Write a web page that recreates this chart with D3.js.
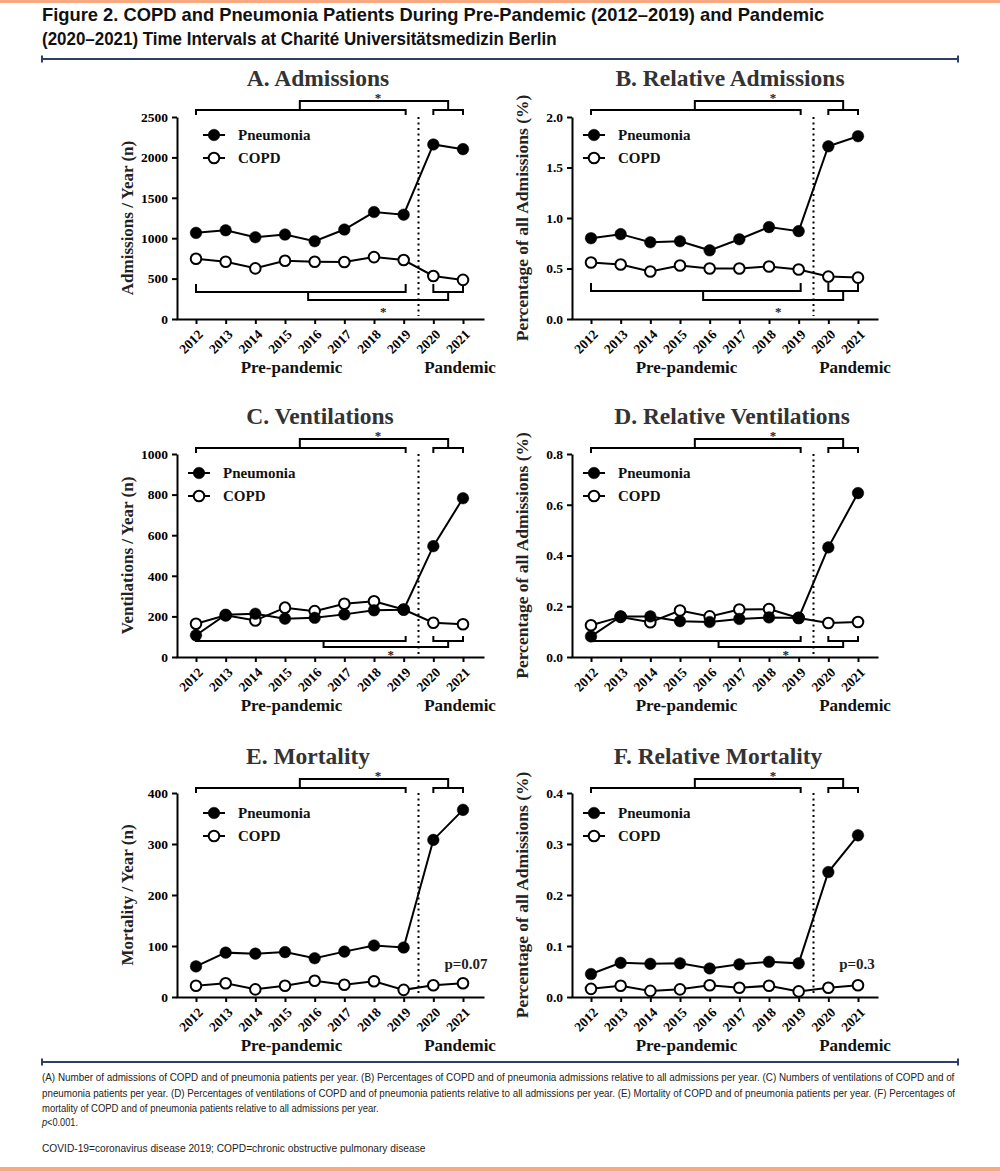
<!DOCTYPE html>
<html>
<head>
<meta charset="utf-8">
<title>COPD and Pneumonia Patients</title>
<script src="https://d3js.org/d3.v7.min.js"></script>
<style>
  body { margin: 0; background: #fff; }
  svg { display: block; }
  .serif { font-family: "Liberation Serif", "Times New Roman", serif; font-weight: bold; }
  .sans { font-family: "Liberation Sans", Arial, sans-serif; }
</style>
</head>
<body>
<div id="chart"></div>
<script>
// ---- data ----
var years = [2012, 2013, 2014, 2015, 2016, 2017, 2018, 2019, 2020, 2021];

var admPneumonia = [1066, 1098, 1012, 1045, 963, 1107, 1324, 1291, 2160, 2102];
var admCopd      = [746, 709, 627, 721, 709, 705, 766, 730, 533, 484];

var relAdmPneumonia = [0.80, 0.84, 0.76, 0.77, 0.68, 0.79, 0.91, 0.87, 1.71, 1.81];
var relAdmCopd      = [0.56, 0.54, 0.47, 0.53, 0.50, 0.50, 0.52, 0.49, 0.42, 0.41];

var ventPneumonia = [107, 208, 213, 189, 193, 210, 230, 233, 546, 782];
var ventCopd      = [164, 205, 180, 243, 226, 262, 275, 234, 169, 161];

var relVentPneumonia = [0.081, 0.160, 0.160, 0.141, 0.138, 0.150, 0.156, 0.154, 0.432, 0.646];
var relVentCopd      = [0.125, 0.158, 0.137, 0.183, 0.160, 0.187, 0.189, 0.154, 0.134, 0.138];

var mortPneumonia = [60, 87, 85, 88, 76, 89, 101, 97, 308, 367];
var mortCopd      = [22, 27, 15, 22, 32, 24, 31, 14, 23, 27];

var relMortPneumonia = [0.045, 0.067, 0.065, 0.066, 0.056, 0.064, 0.069, 0.066, 0.245, 0.317];
var relMortCopd      = [0.016, 0.022, 0.012, 0.015, 0.023, 0.018, 0.022, 0.011, 0.018, 0.023];

var ticksAdm     = [0, 500, 1000, 1500, 2000, 2500];
var ticksRelAdm  = [0, 0.5, 1.0, 1.5, 2.0];
var ticksVent    = [0, 200, 400, 600, 800, 1000];
var ticksRelVent = [0, 0.2, 0.4, 0.6, 0.8];
var ticksMort    = [0, 100, 200, 300, 400];
var ticksRelMort = [0, 0.1, 0.2, 0.3, 0.4];

var seriesNames = ["Pneumonia", "COPD"];

var titleLines = [
  "Figure 2. COPD and Pneumonia Patients During Pre-Pandemic (2012\u20132019) and Pandemic",
  "(2020\u20132021) Time Intervals at Charit\u00e9 Universit\u00e4tsmedizin Berlin"
];
var noteLines = [
  "(A) Number of admissions of COPD and of pneumonia patients per year. (B) Percentages of COPD and of pneumonia admissions relative to all admissions per year. (C) Numbers of ventilations of COPD and of",
  "pneumonia patients per year. (D) Percentages of ventilations of COPD and of pneumonia patients relative to all admissions per year. (E) Mortality of COPD and of pneumonia patients per year. (F) Percentages of",
  "mortality of COPD and of pneumonia patients relative to all admissions per year."
];
var abbrevLine = "COVID-19=coronavirus disease 2019; COPD=chronic obstructive pulmonary disease";

// ---- layout ----
var W = 1000, H = 1171;
var cols = [
  { axisX: 177, x0: 196, x1: 463, xEnd: 483 },
  { axisX: 572, x0: 591, x1: 858, xEnd: 877 }
];
var rows = [
  { yTop: 117, y0: 319 },
  { yTop: 454, y0: 657 },
  { yTop: 793, y0: 997 }
];

var panels = [
  { title: "A. Admissions", ylab: "Admissions / Year (n)", pn: admPneumonia, cp: admCopd,
    ticks: ticksAdm, fmt: d3.format("d"), col: 0, row: 0, titleX: 318, legDx: 26,
    bottom: { by: 27, cy: 19, end: 8, left: 2015.78 } },
  { title: "B. Relative Admissions", ylab: "Percentage of all Admissions (%)", pn: relAdmPneumonia, cp: relAdmCopd,
    ticks: ticksRelAdm, fmt: d3.format(".1f"), col: 1, row: 0, titleX: 730, legDx: 11,
    bottom: { by: 28, cy: 19, end: 8, left: 2015.78 } },
  { title: "C. Ventilations", ylab: "Ventilations / Year (n)", pn: ventPneumonia, cp: ventCopd,
    ticks: ticksVent, fmt: d3.format("d"), col: 0, row: 1, titleX: 320, legDx: 11,
    bottom: { by: 16, cy: 10, end: 5, left: 2016.3 } },
  { title: "D. Relative Ventilations", ylab: "Percentage of all Admissions (%)", pn: relVentPneumonia, cp: relVentCopd,
    ticks: ticksRelVent, fmt: d3.format(".1f"), col: 1, row: 1, titleX: 732, legDx: 11,
    bottom: { by: 16, cy: 10, end: 5, left: 2016.3 } },
  { title: "E. Mortality", ylab: "Mortality / Year (n)", pn: mortPneumonia, cp: mortCopd,
    ticks: ticksMort, fmt: d3.format("d"), col: 0, row: 2, titleX: 308, legDx: 26,
    pval: "p=0.07" },
  { title: "F. Relative Mortality", ylab: "Percentage of all Admissions (%)", pn: relMortPneumonia, cp: relMortCopd,
    ticks: ticksRelMort, fmt: d3.format(".1f"), col: 1, row: 2, titleX: 718, legDx: 11,
    pval: "p=0.3" }
];

var svg = d3.select("#chart").append("svg")
  .attr("width", W).attr("height", H);

// orange bands top and bottom
svg.append("rect").attr("x", 0).attr("y", 0).attr("width", W).attr("height", 3).attr("fill", "#f7a981");
svg.append("rect").attr("x", 0).attr("y", H - 4).attr("width", W).attr("height", 4).attr("fill", "#f7a981");

// narrow text: draw at natural width then squeeze to the target width
function narrowText(parent, y, width, build) {
  var t = parent.append("text").attr("x", 0).attr("y", 0);
  build(t);
  var n = t.node().getComputedTextLength();
  t.attr("transform", "translate(42," + y + ") scale(" + (width / n) + ",1)");
  return t;
}

// header title
var tl = svg.append("g").attr("class", "sans").style("font-weight", "bold").style("font-size", "18px").attr("fill", "#111");
narrowText(tl, 21, 783, function (t) { t.text(titleLines[0]); });
narrowText(tl, 45, 515, function (t) { t.text(titleLines[1]); });

function divider(y) {
  var g = svg.append("g").attr("stroke", "#2d4063").attr("stroke-width", 2);
  g.append("line").attr("x1", 42).attr("x2", 958).attr("y1", y).attr("y2", y);
  g.append("line").attr("x1", 42).attr("x2", 42).attr("y1", y - 3.5).attr("y2", y + 3.5);
  g.append("line").attr("x1", 958).attr("x2", 958).attr("y1", y - 3.5).attr("y2", y + 3.5);
}
divider(59);
divider(1062);

// footnotes
var fn = svg.append("g").attr("class", "sans").style("font-size", "11px").attr("fill", "#222");
narrowText(fn, 1081, 914, function (t) { t.text(noteLines[0]); });
narrowText(fn, 1096.5, 914, function (t) { t.text(noteLines[1]); });
narrowText(fn, 1112, 337, function (t) { t.text(noteLines[2]); });
narrowText(fn, 1126, 36, function (t) {
  t.append("tspan").style("font-style", "italic").text("p");
  t.append("tspan").text("<0.001.");
});
narrowText(fn, 1152, 384, function (t) { t.text(abbrevLine); });

function bracket(g, xa, xb, y, dir, len) {
  g.append("path")
    .attr("d", "M" + xa + "," + (y + dir * len) + "V" + y + "H" + xb + "V" + (y + dir * len));
}

function drawPanel(p) {
  var c = cols[p.col], r = rows[p.row];
  var g = svg.append("g").attr("class", "serif");

  var x = d3.scaleLinear().domain([2012, 2021]).range([c.x0, c.x1]);
  var xa = d3.scaleLinear().domain([x.invert(c.axisX), x.invert(c.xEnd)]).range([c.axisX, c.xEnd]);
  var y = d3.scaleLinear().domain([0, p.ticks[p.ticks.length - 1]]).range([r.y0, r.yTop]);

  // axes
  var ya = g.append("g").attr("transform", "translate(" + c.axisX + ",0)")
    .call(d3.axisLeft(y).tickValues(p.ticks).tickFormat(p.fmt).tickSize(5).tickSizeOuter(0).tickPadding(4));
  var xg = g.append("g").attr("transform", "translate(0," + r.y0 + ")")
    .call(d3.axisBottom(xa).tickValues(years).tickFormat(d3.format("d")).tickSize(5).tickSizeOuter(0));
  [ya, xg].forEach(function (a) {
    a.selectAll("path, line").attr("stroke", "#000").attr("stroke-width", 2);
    a.selectAll("text").attr("fill", "#000").style("font-size", "13.5px")
      .style("font-family", "Liberation Serif, Times New Roman, serif").style("font-weight", "bold");
  });
  xg.select(".domain").attr("stroke-linecap", "square");
  xg.selectAll("text")
    .attr("x", 0).attr("y", 0).attr("dy", "0.35em")
    .attr("transform", "translate(4,13) rotate(-45)")
    .style("text-anchor", "end");

  // pandemic divider
  g.append("line")
    .attr("x1", x(2019.5)).attr("x2", x(2019.5))
    .attr("y1", r.yTop).attr("y2", r.y0 - 3)
    .attr("stroke", "#000").attr("stroke-width", 2).attr("stroke-dasharray", "2,3.5");

  // significance brackets
  var bg = g.append("g").attr("fill", "none").attr("stroke", "#000").attr("stroke-width", 2);
  var ty = r.y0 - 209, tcy = r.y0 - 218;
  bracket(bg, x(2012), x(2019) + 2, ty, 1, 5);
  bracket(bg, x(2020), x(2021), ty, 1, 5);
  bg.append("path").attr("d", "M" + x(2015.5) + "," + ty + "V" + tcy + "H" + x(2020.5) + "V" + ty);
  g.append("text").attr("x", (x(2015.5) + x(2020.5)) / 2 + 4).attr("y", tcy + 1)
    .attr("text-anchor", "middle").style("font-size", "13px").attr("fill", "#222").text("*");

  if (p.bottom) {
    var b = p.bottom, by = r.y0 - b.by, bcy = r.y0 - b.cy;
    bracket(bg, x(2012), x(2019) + 2, by, -1, b.end);
    bracket(bg, x(2020), x(2021), by, -1, b.end);
    bg.append("path").attr("d", "M" + x(b.left) + "," + by + "V" + bcy + "H" + x(2020.5) + "V" + by);
    g.append("text").attr("x", (x(b.left) + x(2020.5)) / 2 + 5).attr("y", bcy + (b.cy > 15 ? 16 : 12))
      .attr("text-anchor", "middle").style("font-size", "13px").attr("fill", "#222").text("*");
  }

  // series
  var line = d3.line().x(function (d, i) { return x(years[i]); }).y(function (d) { return y(d); });
  [p.cp, p.pn].forEach(function (vals, k) {
    var filled = k === 1;
    g.append("path").datum(vals).attr("d", line)
      .attr("fill", "none").attr("stroke", "#000").attr("stroke-width", 2);
    g.selectAll(null).data(vals).enter().append("circle")
      .attr("cx", function (d, i) { return x(years[i]); })
      .attr("cy", function (d) { return y(d); })
      .attr("r", filled ? 5.8 : 5.3)
      .attr("fill", filled ? "#000" : "#fff")
      .attr("stroke", "#000").attr("stroke-width", filled ? 0.5 : 2);
  });

  // legend
  var lx = c.axisX + p.legDx;
  seriesNames.forEach(function (name, k) {
    var ly = r.y0 - 184 + k * 23;
    var filled = k === 0;
    g.append("line").attr("x1", lx).attr("x2", lx + 22).attr("y1", ly).attr("y2", ly)
      .attr("stroke", "#000").attr("stroke-width", 2);
    g.append("circle").attr("cx", lx + 11).attr("cy", ly).attr("r", filled ? 5.8 : 5.3)
      .attr("fill", filled ? "#000" : "#fff").attr("stroke", "#000").attr("stroke-width", filled ? 0.5 : 2);
    g.append("text").attr("x", lx + 35).attr("y", ly).attr("dy", "0.35em")
      .style("font-size", "15px").attr("fill", "#111").text(name);
  });

  if (p.pval) {
    g.append("text").attr("x", x(2021) + (p.col === 0 ? 3 : -1)).attr("y", r.y0 - 28)
      .attr("text-anchor", "middle").style("font-size", "15px").attr("fill", "#222").text(p.pval);
  }

  // panel title
  g.append("text").attr("x", p.titleX).attr("y", r.y0 - 233)
    .attr("text-anchor", "middle").style("font-size", "23.5px").attr("fill", "#333").text(p.title);

  // y label
  g.append("text")
    .attr("transform", "translate(" + (c.axisX - 50) + "," + ((r.y0 + r.yTop) / 2) + ") rotate(-90)")
    .attr("text-anchor", "middle").attr("dy", "0.35em")
    .style("font-size", p.col === 0 ? "17px" : "17.5px").attr("fill", "#222").text(p.ylab);

  // period labels
  g.append("text").attr("x", x(2015.22)).attr("y", r.y0 + 54).attr("text-anchor", "middle")
    .style("font-size", "17px").attr("fill", "#111").text("Pre-pandemic");
  g.append("text").attr("x", x(2020.9)).attr("y", r.y0 + 54).attr("text-anchor", "middle")
    .style("font-size", "17px").attr("fill", "#111").text("Pandemic");
}

panels.forEach(drawPanel);
</script>
</body>
</html>
